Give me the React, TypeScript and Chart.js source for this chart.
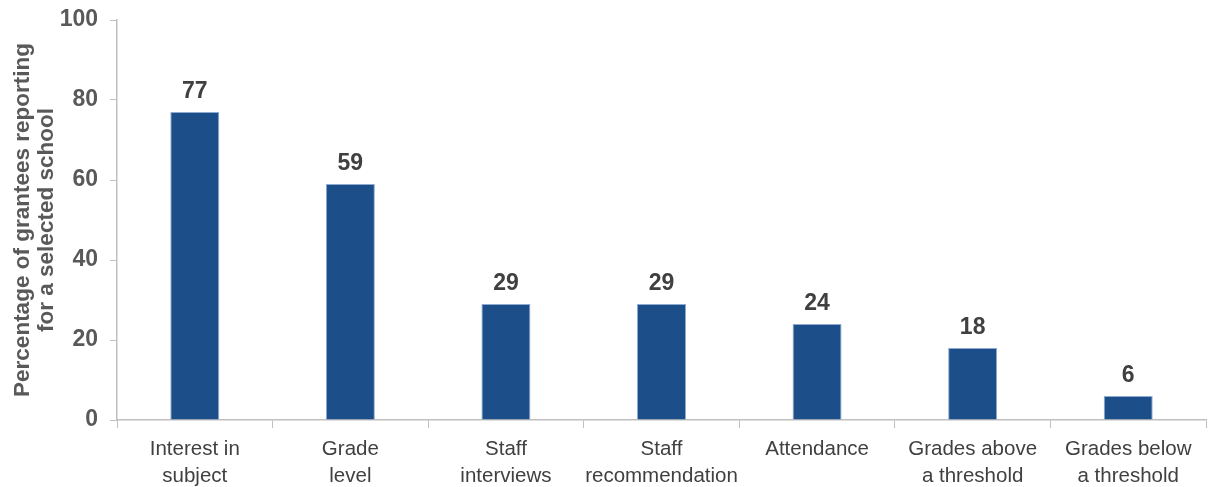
import React, { useEffect, useRef } from "react";
import { Chart, registerables } from "chart.js";

Chart.register(...registerables);

const categories: string[][] = [
  ["Interest in", "subject"],
  ["Grade", "level"],
  ["Staff", "interviews"],
  ["Staff", "recommendation"],
  ["Attendance"],
  ["Grades above", "a threshold"],
  ["Grades below", "a threshold"],
];
const values: number[] = [77, 59, 29, 29, 24, 18, 6];
const yTicks: number[] = [0, 20, 40, 60, 80, 100];
const yTitle: string[] = ["Percentage of grantees reporting", "for a selected school"];

const SANS = "'Liberation Sans', Arial, sans-serif";

const valueLabels = {
  id: "valueLabels",
  afterDatasetsDraw(chart: any) {
    const ctx = chart.ctx;
    const meta = chart.getDatasetMeta(0);
    ctx.save();
    ctx.font = `bold 23px ${SANS}`;
    ctx.fillStyle = "#404040";
    ctx.textAlign = "center";
    ctx.textBaseline = "alphabetic";
    meta.data.forEach((bar: any, i: number) => {
      ctx.fillText(String(values[i]), bar.x, bar.y - 14);
    });
    ctx.restore();
  },
};

export default function App() {
  const ref = useRef<HTMLCanvasElement | null>(null);
  useEffect(() => {
    document.body.style.margin = "0";
    if (!ref.current) return;
    const chart = new Chart(ref.current, {
      type: "bar",
      data: {
        labels: categories,
        datasets: [
          {
            data: values,
            backgroundColor: "#1C4E89",
            borderColor: "#8FAAD0",
            borderWidth: { left: 1, right: 1, top: 1, bottom: 0 },
            barPercentage: 0.63,
            categoryPercentage: 0.5,
          },
        ],
      },
      options: {
        animation: false,
        responsive: false,
        maintainAspectRatio: false,
        layout: { padding: { top: 20, right: 5, bottom: 0, left: 11 } },
        plugins: { legend: { display: false }, tooltip: { enabled: false } },
        scales: {
          x: {
            grid: {
              display: true,
              drawOnChartArea: false,
              drawTicks: true,
              tickLength: 8,
              color: "#BFBFBF",
              offset: true,
            },
            border: { display: true, color: "#BFBFBF", width: 1.5 },
            ticks: {
              color: "#404040",
              font: { family: SANS, size: 20.5, lineHeight: 1.32 },
              padding: 8,
              maxRotation: 0,
              autoSkip: false,
            },
            afterFit(scale: any) {
              scale.height = 67;
              scale.paddingLeft = 0;
              scale.paddingRight = 0;
            },
          },
          y: {
            min: 0,
            max: 100,
            afterBuildTicks(scale: any) {
              scale.ticks = yTicks.map((v) => ({ value: v }));
            },
            grid: {
              display: true,
              drawOnChartArea: false,
              drawTicks: true,
              tickLength: 7,
              color: "#BFBFBF",
            },
            border: { display: true, color: "#BFBFBF", width: 1.5 },
            ticks: {
              color: "#595959",
              font: { family: SANS, size: 23, weight: "bold" },
              padding: 12,
            },
            title: {
              display: true,
              text: yTitle,
              color: "#595959",
              font: { family: SANS, size: 22.5, weight: "bold", lineHeight: 1.05 },
              padding: { top: 0, bottom: 4 },
            },
            afterFit(scale: any) {
              scale.width = 106;
              scale.paddingTop = 0;
              scale.paddingBottom = 0;
            },
          },
        },
      },
      plugins: [valueLabels],
    });
    return () => chart.destroy();
  }, []);
  return (
    <div style={{ position: "absolute", left: 0, top: 0, width: 1211, height: 487 }}>
      <canvas ref={ref} width={1211} height={487} style={{ width: 1211, height: 487 }} />
    </div>
  );
}
